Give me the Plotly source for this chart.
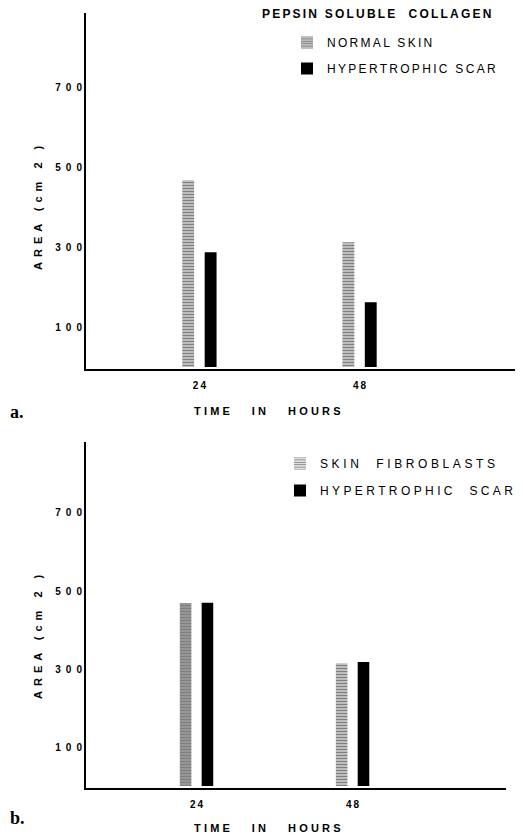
import plotly.graph_objects as go

# ---- data ----
hours = [24, 48]
hour_labels = ["24", "48"]
normal_skin = [467, 312]
hypertrophic_scar_a = [287, 162]
skin_fibroblasts = [469, 315]
hypertrophic_scar_b = [470, 318]
ytick_vals = [100, 300, 500, 700]
ytick_labels = ["100", "300", "500", "700"]

# The page body has an 8px default margin, so the figure is drawn 8px
# in from the top-left corner of the 523x838 window.
OFF = 8
W, H = 523 - OFF, 838 - OFF
def fx(px):
    return (px - OFF) / W
def fy(py):
    return 1 - (py - OFF) / H

SANS = "Liberation Sans, Arial, sans-serif"
SERIF = "Liberation Serif, Times New Roman, serif"

def spaced(s, ls):
    # letter-spacing on all but the last char so right-aligned labels stay put
    return f'<span style="letter-spacing:{ls}px">{s[:-1]}</span>{s[-1]}'

hatch = dict(shape="-", fgcolor="black", bgcolor="white", size=3, solidity=0.68)

fig = go.Figure()

fig.add_trace(go.Bar(
    x=hours, y=normal_skin, name=spaced("NORMAL SKIN", 2.3),
    marker=dict(color="white", line=dict(width=0), pattern=hatch),
    xaxis="x", yaxis="y", legend="legend", legendgroup="a1"))
fig.add_trace(go.Bar(
    x=hours, y=hypertrophic_scar_a, name=spaced("HYPERTROPHIC SCAR", 2.3),
    marker=dict(color="black", line=dict(width=0)),
    xaxis="x", yaxis="y", legend="legend", legendgroup="a2"))

hatch_b = dict(shape="-", fgcolor="black", bgcolor="white", size=3,
               solidity=[0.88, 0.68])
fig.add_trace(go.Bar(
    x=hours, y=skin_fibroblasts, name=spaced("SKIN  FIBROBLASTS", 3.6),
    marker=dict(color="white", line=dict(width=0), pattern=hatch_b),
    xaxis="x2", yaxis="y2", legend="legend2", legendgroup="b1"))
fig.add_trace(go.Bar(
    x=hours, y=hypertrophic_scar_b, name=spaced("HYPERTROPHIC  SCAR", 3.4),
    marker=dict(color="black", line=dict(width=0)),
    xaxis="x2", yaxis="y2", legend="legend2", legendgroup="b2"))

xt = [spaced(t, 2) for t in hour_labels]
yt = [spaced(t, 5) for t in ytick_labels]

common_x = dict(
    range=[7, 71.6], tickmode="array", tickvals=hours, ticktext=xt,
    showline=True, linewidth=2, linecolor="black", ticks="",
    showgrid=False, zeroline=False, fixedrange=True, automargin=False,
    tickfont=dict(family=SANS, size=10, color="black", weight="bold"),
    ticklabelstandoff=6)
common_y = dict(
    tickmode="array", tickvals=ytick_vals, ticktext=yt,
    showline=True, linewidth=2, linecolor="black", ticks="",
    showgrid=False, zeroline=False, fixedrange=True, automargin=False,
    tickfont=dict(family=SANS, size=10, color="black", weight="bold"),
    ticklabelstandoff=0)

fig.update_layout(
    width=W, height=H, autosize=False,
    margin=dict(l=0, r=0, t=0, b=0, pad=0),
    paper_bgcolor="white", plot_bgcolor="white",
    barmode="group", bargap=0.72, bargroupgap=0.47,
    xaxis=dict(domain=[fx(86), fx(517)], anchor="y", **common_x),
    yaxis=dict(domain=[fy(369), fy(13)], range=[-5, 885], anchor="x", **common_y),
    xaxis2=dict(domain=[fx(86), fx(506)], anchor="y2", **common_x),
    yaxis2=dict(domain=[fy(788), fy(442)], range=[-5, 882], anchor="x2", **common_y),
    legend=dict(x=fx(287), y=fy(28), xanchor="left", yanchor="top",
                bgcolor="rgba(0,0,0,0)", borderwidth=0, tracegroupgap=7,
                traceorder="grouped",
                font=dict(family=SANS, size=12, color="black")),
    legend2=dict(x=fx(280), y=fy(449), xanchor="left", yanchor="top",
                 bgcolor="rgba(0,0,0,0)", borderwidth=0, tracegroupgap=8,
                 traceorder="grouped",
                 font=dict(family=SANS, size=12, color="black")),
    showlegend=True,
)

ann = []
ann.append(dict(text=spaced("PEPSIN SOLUBLE  COLLAGEN", 2.2), x=fx(260), y=fy(14),
                xref="paper", yref="paper", xanchor="left", yanchor="middle",
                showarrow=False,
                font=dict(family=SANS, size=12, color="black", weight="bold")))
for yc in (411, 828):
    ann.append(dict(text=spaced("TIME   IN   HOURS", 3.2), x=fx(192), y=fy(yc),
                    xref="paper", yref="paper", xanchor="left", yanchor="middle",
                    showarrow=False,
                    font=dict(family=SANS, size=11, color="black", weight="bold")))
for yc in (208, 637):
    ann.append(dict(text=spaced("AREA (cm 2 )", 5), x=fx(38), y=fy(yc),
                    xref="paper", yref="paper", xanchor="center", yanchor="middle",
                    textangle=-90, showarrow=False,
                    font=dict(family=SANS, size=11, color="black", weight="bold")))
ann.append(dict(text="a.", x=fx(8), y=fy(412), xref="paper", yref="paper",
                xanchor="left", yanchor="middle", showarrow=False,
                font=dict(family=SERIF, size=18, color="black", weight="bold")))
ann.append(dict(text="b.", x=fx(8), y=fy(818), xref="paper", yref="paper",
                xanchor="left", yanchor="middle", showarrow=False,
                font=dict(family=SERIF, size=18, color="black", weight="bold")))
fig.update_layout(annotations=ann)

fig.write_html("out.html")
